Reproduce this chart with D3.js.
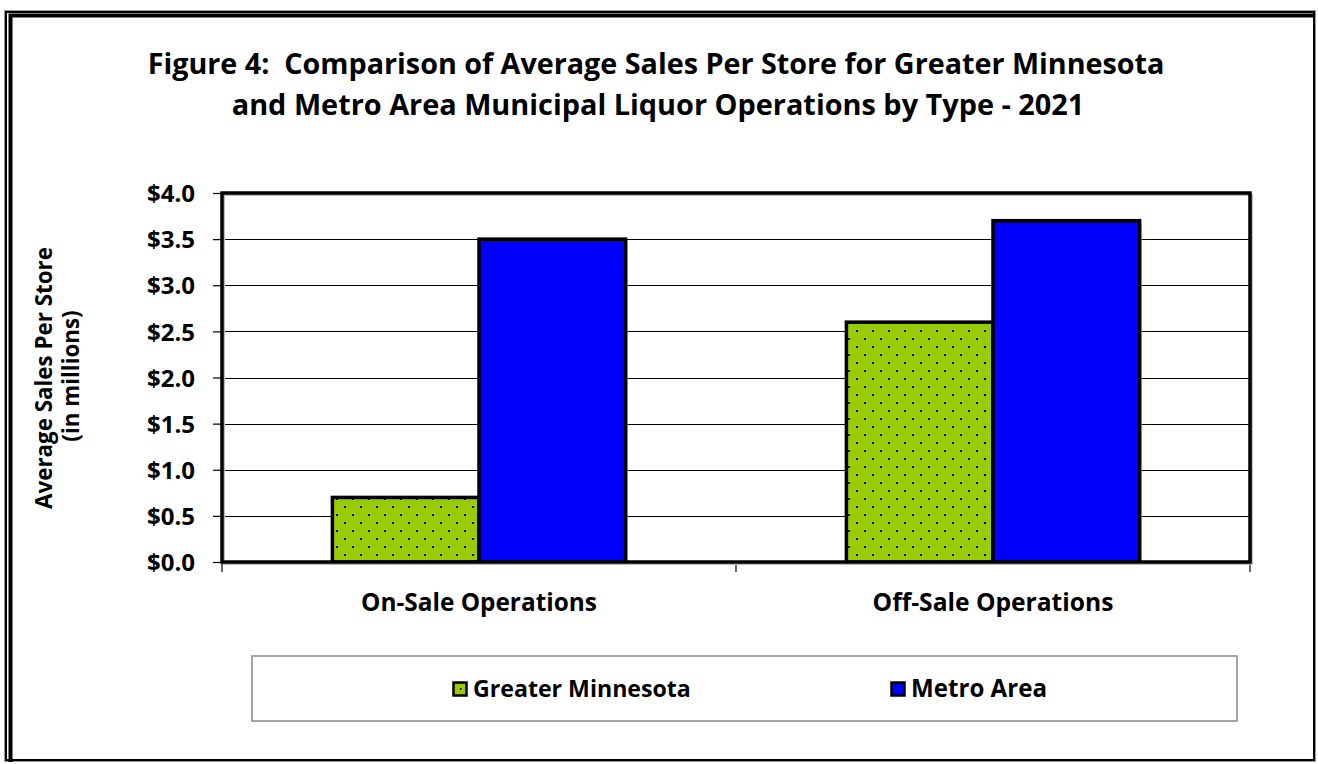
<!DOCTYPE html>
<html><head><meta charset="utf-8">
<script src="https://cdn.jsdelivr.net/npm/d3@7"></script>
<style>body{margin:0;background:#fff}svg{display:block}text{font-family:"Open Sans",Lato,sans-serif;font-weight:bold;fill:#000;white-space:pre}</style>
</head><body>
<svg id="c" width="1318" height="764"></svg>
<script>
const categories = ["On-Sale Operations", "Off-Sale Operations"];
const seriesNames = ["Greater Minnesota", "Metro Area"];
const greaterMinnesota = [0.7, 2.6];
const metroArea = [3.5, 3.7];
const yTicks = [0, 0.5, 1.0, 1.5, 2.0, 2.5, 3.0, 3.5, 4.0];
const titleLines = ["Figure 4:  Comparison of Average Sales Per Store for Greater Minnesota",
                    "and Metro Area Municipal Liquor Operations by Type - 2021"];
const yTitle = ["Average Sales Per Store", "(in millions)"];

const svg = d3.select("#c");
const colors = ["#99CC00", "#0000FF"];

const defs = svg.append("defs");
const pat = defs.append("pattern").attr("id","dots").attr("patternUnits","userSpaceOnUse")
  .attr("width",16).attr("height",16).attr("x",335).attr("y",0);
pat.append("rect").attr("width",16).attr("height",16).attr("fill",colors[0]);
pat.append("rect").attr("x",1).attr("y",2).attr("width",2).attr("height",2).attr("fill","#000");
pat.append("rect").attr("x",9).attr("y",10).attr("width",2).attr("height",2).attr("fill","#000");
defs.append("pattern").attr("id","dots2").attr("patternUnits","userSpaceOnUse").attr("width",16).attr("height",16).attr("x",452).attr("y",680)
  .call(p=>{p.append("rect").attr("width",16).attr("height",16).attr("fill",colors[0]);p.append("rect").attr("x",8).attr("y",8).attr("width",1.5).attr("height",2).attr("fill","#000");});

// outer frame
svg.append("rect").attr("x",4.5).attr("y",10.5).attr("width",1311).attr("height",751).attr("fill","none").attr("stroke","#999").attr("stroke-width",1);
svg.append("rect").attr("x",6).attr("y",12).attr("width",1308).attr("height",748).attr("fill","none").attr("stroke","#000").attr("stroke-width",2);
svg.append("path").attr("d","M10.5,762 V15.5 H1315").attr("fill","none").attr("stroke","#000").attr("stroke-width",4);

function fit(sel, target){
  sel.each(function(){
    const w = this.getComputedTextLength();
    const fs = parseFloat(d3.select(this).style("font-size"));
    d3.select(this).style("font-size", (fs*target/w)+"px");
  });
}

// title
const t1 = svg.append("text").attr("x",656).attr("y",74).attr("text-anchor","middle").style("font-size","26px").text(titleLines[0]);
fit(t1, 1017);
const t2 = svg.append("text").attr("x",658).attr("y",115).attr("text-anchor","middle").style("font-size","26px").text(titleLines[1]);
fit(t2, 853);

const L=222, R=1250, T=193, B=562;
const x = d3.scaleBand().domain(categories).range([L,R]);
const xs = d3.scaleBand().domain(seriesNames).range([0,x.bandwidth()]).paddingOuter(0.753).paddingInner(0);
const y = d3.scaleLinear().domain([0,4]).range([B,T]);

// gridlines
svg.append("g").selectAll("line").data(yTicks.filter(d=>d>0)).join("line")
  .attr("x1",L).attr("x2",R).attr("y1",d=>Math.round(y(d))+0.5).attr("y2",d=>Math.round(y(d))+0.5)
  .attr("stroke","#000").attr("stroke-width",1.2);

// y axis ticks & labels
const yAxis = d3.axisLeft(y).tickValues(yTicks).tickSize(9).tickPadding(18).tickFormat(d=>"$"+d.toFixed(1));
const yg = svg.append("g").attr("transform",`translate(${L},0)`).call(yAxis);
yg.select(".domain").remove();
yg.selectAll(".tick line").attr("stroke","#000").attr("stroke-width",1.2);
yg.selectAll(".tick text").style("font-size","24px").attr("dy","0.36em").style("font-family","'Open Sans',sans-serif").style("font-weight","bold");

// x ticks
const xt = [L, ...categories.map(c=>x(c)+x.bandwidth())];
svg.append("g").selectAll("line").data(xt).join("line")
  .attr("x1",d=>d).attr("x2",d=>d).attr("y1",B).attr("y2",B+10).attr("stroke","#000").attr("stroke-width",1.2);

// bars
const series = [greaterMinnesota, metroArea];
series.forEach((vals,si)=>{
  const g = svg.append("g");
  g.selectAll("rect.sh").data(vals).join("rect").attr("class","sh")
    .attr("x",(d,i)=>x(categories[i])+xs(seriesNames[si])+2)
    .attr("y",d=>y(d)+2).attr("width",xs.bandwidth()).attr("height",d=>B-y(d))
    .attr("fill","#aaa");
  g.selectAll("rect.bar").data(vals).join("rect").attr("class","bar")
    .attr("x",(d,i)=>x(categories[i])+xs(seriesNames[si]))
    .attr("y",d=>y(d)).attr("width",xs.bandwidth()).attr("height",d=>B-y(d))
    .attr("fill", si===0 ? "url(#dots)" : colors[1])
    .attr("stroke","#000").attr("stroke-width",3.5);
});

// plot frame
svg.append("rect").attr("x",L+2).attr("y",T+2).attr("width",R-L).attr("height",B-T).attr("fill","none").attr("stroke","#bbb").attr("stroke-width",2);
svg.append("rect").attr("x",L).attr("y",T).attr("width",R-L).attr("height",B-T).attr("fill","none").attr("stroke","#000").attr("stroke-width",3.5);

// x labels
const xl = svg.append("g").selectAll("text").data(categories).join("text")
  .attr("x",c=>x(c)+x.bandwidth()/2).attr("y",611).attr("text-anchor","middle").style("font-size","21px").text(c=>c);
fit(xl.filter((d,i)=>i===0), 236);
fit(xl.filter((d,i)=>i===1), 241);

// y title
const yt1 = svg.append("text").attr("transform","translate(52,378) rotate(-90)").attr("text-anchor","middle").style("font-size","20px").text(yTitle[0]);
fit(yt1, 262);
const yt2 = svg.append("text").attr("transform","translate(79,376) rotate(-90)").attr("text-anchor","middle").style("font-size", yt1.style("font-size")).text(yTitle[1]);

// legend
svg.append("rect").attr("x",252).attr("y",656).attr("width",985).attr("height",65).attr("fill","#fff").attr("stroke","#888").attr("stroke-width",1.5);
const legX = [452, 890];
seriesNames.forEach((s,i)=>{
  svg.append("rect").attr("x",legX[i]+1.5).attr("y",682.5).attr("width",13).attr("height",13)
    .attr("fill", i===0?"url(#dots2)":colors[1]).attr("stroke","#000").attr("stroke-width",2.5);
  svg.append("text").attr("x",legX[i]+21).attr("y",697).style("font-size","20px").text(s).attr("class","leg"+i);
});
fit(svg.select(".leg0"), 218);
fit(svg.select(".leg1"), 136);
</script>
</body></html>
